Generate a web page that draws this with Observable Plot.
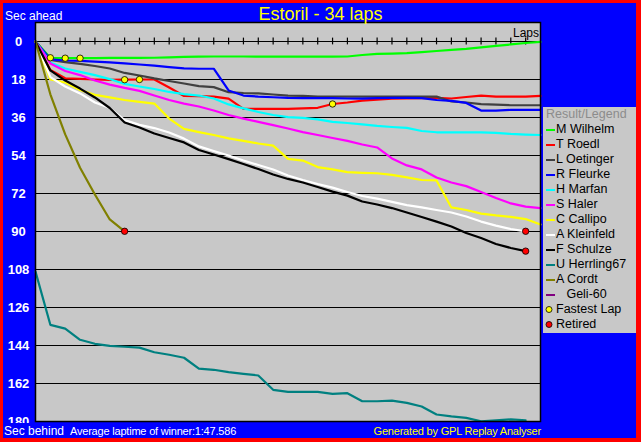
<!DOCTYPE html>
<html>
<head>
<meta charset="utf-8">
<script src="https://cdn.jsdelivr.net/npm/d3@7"></script>
<script src="https://cdn.jsdelivr.net/npm/@observablehq/plot@0.6"></script>
<style>
  html, body { margin: 0; padding: 0; background: #0000ff; }
  #wrap { position: relative; width: 641px; height: 442px; background: #0000ff; overflow: hidden;
          font-family: "Liberation Sans", Arial, sans-serif; }
  #chart { position: absolute; left: 0; top: 0; }
  .txt { position: absolute; white-space: pre; line-height: 14px; font-size: 12px; }
  .small { font-size: 11px; letter-spacing: -0.2px; }
  #strip { position: absolute; left: 0; top: 423px; width: 641px; height: 19px; background: #0000ff; }
  #border { position: absolute; left: 0; top: 0; width: 641px; height: 442px; box-sizing: border-box;
            border-style: solid; border-color: #ff0000; border-width: 3px 5px 4px 3px; pointer-events: none; }
  #legend { position: absolute; left: 543px; top: 107px; width: 93px; height: 226px; background: #c8c8c8; }
  #legend .row { position: absolute; left: 0; height: 15px; line-height: 15px; font-size: 12.5px;
                 display: flex; align-items: center; white-space: pre; color: #000; }
  #legend .sw { width: 9px; height: 2px; margin-left: 3px; margin-right: 1px; }
</style>
</head>
<body>
<div id="wrap">
  <div id="chart"></div>
  <div id="strip"></div>
  <div class="txt" id="title" style="left:0;width:641px;text-align:center;top:4px;font-size:18px;line-height:20px;color:#ffff00;">Estoril - 34 laps</div>
  <div class="txt" style="left:5px;top:9px;color:#fff;">Sec ahead</div>
  <div class="txt" style="left:4px;top:424px;color:#fff;">Sec behind</div>
  <div class="txt small" style="left:70px;top:424px;color:#fff;">Average laptime of winner:1:47.586</div>
  <div class="txt small" style="right:100px;top:424px;color:#ffff00;">Generated by GPL Replay Analyser</div>
  <div class="txt" style="right:102px;top:26px;color:#000;">Laps</div>
  <div id="legend"></div>
  <div id="border"></div>
</div>
<script>
// ---- data ----
const laps = d3.range(0, 35); // lap 0..34
const yTicks = [0, 18, 36, 54, 72, 90, 108, 126, 144, 162, 180];
const lapTicks = d3.range(1, 34);

const drivers = ["M Wilhelm", "T Roedl", "L Oetinger", "R Fleurke", "H Marfan", "S Haler",
                 "C Callipo", "A Kleinfeld", "F Schulze", "U Herrling67", "A Cordt", "Geli-60"];

const wilhelm  = [0, 7.7, 7.9, 7.9, 7.9, 7.8, 7.8, 7.8, 7.7, 7.5, 7.3, 7.2, 7.1, 7.1, 7.1, 7.2, 7.2, 7.2, 7.2, 7.2, 7.2, 7.1, 6.4, 5.9, 5.7, 5.5, 5.0, 4.5, 4.0, 3.5, 2.8, 2.1, 1.4, 0.7, 0.2];
const roedl    = [0, 13.5, 17.4, 17.7, 18.0, 18.2, 18.1, 18.0, 18.0, 21.8, 25.8, 25.9, 26.1, 27.1, 31.9, 31.9, 31.9, 31.9, 31.7, 31.4, 29.6, 28.9, 28.0, 27.5, 27.1, 26.9, 26.8, 26.7, 27.0, 26.3, 25.6, 26.1, 26.1, 26.1, 25.8];
const oetinger = [0, 8.7, 9.8, 10.6, 11.6, 12.8, 14.9, 16.1, 17.5, 18.7, 19.9, 21.1, 21.6, 24.0, 24.4, 24.6, 25.1, 25.6, 25.8, 26.1, 26.1, 26.1, 26.1, 26.1, 26.1, 26.1, 26.1, 26.1, 28.4, 28.9, 29.7, 29.9, 30.2, 30.2, 30.2];
const fleurke  = [0, 8.5, 9.0, 9.2, 9.5, 9.9, 10.4, 10.9, 11.4, 12.1, 12.7, 12.9, 12.9, 23.2, 25.6, 26.1, 26.4, 26.7, 26.8, 26.8, 26.8, 27.0, 27.1, 26.8, 26.7, 26.7, 26.8, 27.7, 28.1, 29.1, 32.7, 32.7, 32.4, 32.4, 32.4];
const marfan   = [0, 9.9, 12.8, 14.4, 15.9, 17.8, 20.1, 21.3, 22.5, 23.9, 24.9, 25.6, 27.0, 29.8, 31.7, 33.4, 34.8, 35.8, 36.2, 36.9, 38.1, 38.6, 39.3, 40.0, 40.5, 40.9, 42.4, 43.0, 43.0, 43.0, 43.0, 43.3, 43.8, 44.1, 44.3];
const haler    = [0, 10.4, 14.0, 15.9, 18.5, 20.4, 22.0, 23.4, 25.6, 27.7, 29.4, 30.8, 32.7, 34.8, 36.5, 38.1, 39.6, 41.2, 42.9, 44.3, 45.7, 47.1, 48.8, 50.2, 55.4, 58.7, 60.6, 64.4, 66.8, 68.5, 71.3, 74.1, 76.7, 78.2, 78.9];
const callipo  = [0, 18.0, 19.4, 23.0, 25.3, 26.5, 27.7, 28.6, 29.4, 36.5, 41.4, 42.9, 44.3, 45.9, 47.1, 48.3, 49.3, 55.6, 56.4, 59.5, 60.6, 61.9, 62.2, 62.4, 63.2, 64.4, 65.6, 65.8, 78.6, 79.8, 81.5, 82.4, 83.1, 84.1, 86.7];
const kleinfeld= [0, 16.9, 21.3, 24.6, 28.9, 31.5, 37.2, 39.5, 41.0, 43.1, 46.0, 49.7, 51.9, 54.0, 56.4, 58.5, 60.6, 63.5, 65.6, 67.5, 69.2, 71.3, 73.2, 74.4, 76.0, 77.5, 78.6, 79.8, 81.0, 82.9, 85.3, 87.2, 88.8, 89.9];
const schulze  = [0, 13.7, 18.5, 22.3, 26.5, 31.5, 38.4, 40.7, 43.6, 45.7, 47.8, 51.4, 53.5, 55.7, 58.0, 60.4, 63.0, 65.1, 66.8, 68.9, 71.1, 73.0, 75.8, 77.2, 78.9, 81.0, 83.1, 85.3, 87.6, 90.7, 93.1, 95.9, 97.8, 99.3];
const herrling = [109.0, 134.2, 136.0, 141.3, 143.2, 144.2, 144.6, 145.0, 147.2, 148.4, 149.8, 155.0, 155.5, 156.6, 157.4, 158.2, 165.0, 166.0, 166.0, 166.0, 166.9, 166.6, 170.4, 170.4, 170.1, 171.2, 172.9, 176.7, 177.6, 178.3, 179.9, 179.5, 179.0, 179.4];
const cordt    = [0, 25.0, 44.0, 59.8, 72.5, 84.3, 89.9];
const geli     = [];

const seriesValues = [wilhelm, roedl, oetinger, fleurke, marfan, haler, callipo, kleinfeld, schulze, herrling, cordt, geli];

const fastestLaps = [["M Wilhelm", 1], ["M Wilhelm", 2], ["M Wilhelm", 3], ["T Roedl", 6], ["T Roedl", 7], ["T Roedl", 20]];
const retired = [["A Cordt", 6], ["A Kleinfeld", 33], ["F Schulze", 33]];

// ---- styles ----
const colors = {
  "M Wilhelm": "#00ff00", "T Roedl": "#ff0000", "L Oetinger": "#404040", "R Fleurke": "#0000ff",
  "H Marfan": "#00ffff", "S Haler": "#ff00ff", "C Callipo": "#ffff00", "A Kleinfeld": "#ffffff",
  "F Schulze": "#000000", "U Herrling67": "#008080", "A Cordt": "#808000", "Geli-60": "#800080"
};

const rows = drivers.flatMap((d, i) => seriesValues[i].map((v, j) => ({driver: d, lap: laps[j], sec: v})));
const valueOf = (d, lap) => seriesValues[drivers.indexOf(d)][lap];
const fastRows = fastestLaps.map(([d, l]) => ({lap: l, sec: valueOf(d, l)}));
const retRows = retired.map(([d, l]) => ({lap: l, sec: valueOf(d, l)}));

const lineMarks = drivers.map(d => Plot.line(rows.filter(r => r.driver === d),
  {x: "lap", y: "sec", stroke: colors[d], strokeWidth: 2.2, strokeLinejoin: "round"}));

const chart = Plot.plot({
  width: 641, height: 442,
  marginLeft: 35, marginRight: 101, marginTop: 22, marginBottom: 21,
  x: {domain: [0, 34], axis: null},
  y: {domain: [-9, 180], reverse: true, axis: null},
  style: {background: "transparent", overflow: "visible"},
  marks: [
    Plot.frame({fill: "#c8c8c8", stroke: "none"}),
    Plot.ruleY(yTicks, {stroke: "#000", strokeWidth: 1.2}),
    Plot.ruleX(lapTicks, {y1: -1.6, y2: 1.6, stroke: "#000", strokeWidth: 1.2}),
    ...lineMarks,
    Plot.dot(fastRows, {x: "lap", y: "sec", r: 3.2, fill: "#ffff00", stroke: "#000", strokeWidth: 0.8}),
    Plot.dot(retRows, {x: "lap", y: "sec", r: 3.2, fill: "#ff0000", stroke: "#000", strokeWidth: 0.8}),
    Plot.frame({stroke: "#000", strokeWidth: 1.5}),
    Plot.text(yTicks, {y: d => d, text: d => String(d), frameAnchor: "left", dx: -17,
      textAnchor: "middle", fill: "#fff", fontWeight: "bold", fontSize: 13,
      fontFamily: "Liberation Sans, Arial, sans-serif"})
  ]
});
document.getElementById("chart").appendChild(chart);

// ---- legend ----
const legend = document.getElementById("legend");
const header = document.createElement("div");
header.className = "row";
header.style.top = "0px";
header.style.left = "3px";
header.style.color = "#8c8c8c";
header.textContent = "Result/Legend";
legend.appendChild(header);
drivers.forEach((d, i) => {
  const row = document.createElement("div");
  row.className = "row";
  row.style.top = (15 + 15 * i) + "px";
  const sw = document.createElement("span");
  sw.className = "sw";
  sw.style.background = colors[d];
  row.appendChild(sw);
  const t = document.createElement("span");
  t.textContent = d === "Geli-60" ? "   " + d : d;
  row.appendChild(t);
  legend.appendChild(row);
});
[["Fastest Lap", "#ffff00"], ["Retired", "#ff0000"]].forEach(([label, fill], k) => {
  const row = document.createElement("div");
  row.className = "row";
  row.style.top = (15 + 15 * (drivers.length + k)) + "px";
  row.innerHTML = `<svg width="13" height="15" style="flex:none"><circle cx="6" cy="7.5" r="3" fill="${fill}" stroke="#000" stroke-width="0.8"/></svg>`;
  const t = document.createElement("span");
  t.textContent = label;
  row.appendChild(t);
  legend.appendChild(row);
});
</script>
</body>
</html>
